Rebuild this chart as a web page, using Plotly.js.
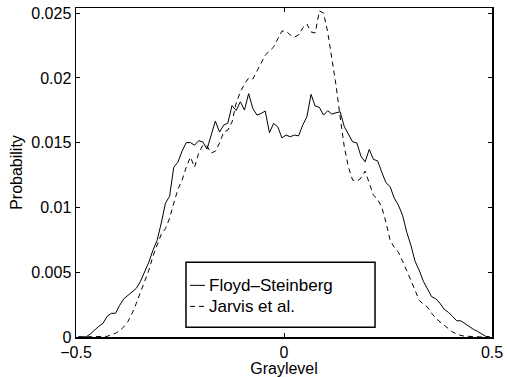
<!DOCTYPE html>
<html>
<head>
<meta charset="utf-8">
<script src="https://cdn.plot.ly/plotly-3.0.1.min.js"></script>
<style>
  html, body { margin: 0; padding: 0; background: #fff; }
  #chart { width: 507px; height: 377px; }
</style>
</head>
<body>
<div id="chart"></div>
<script>
// Bin centres (graylevel)
const graylevel = [
  -0.495,-0.485,-0.475,-0.465,-0.455,-0.445,-0.435,-0.425,-0.415,-0.405,
  -0.395,-0.385,-0.375,-0.365,-0.355,-0.345,-0.335,-0.325,-0.315,-0.305,
  -0.295,-0.285,-0.275,-0.265,-0.255,-0.245,-0.235,-0.225,-0.215,-0.205,
  -0.195,-0.185,-0.175,-0.165,-0.155,-0.145,-0.135,-0.125,-0.115,-0.105,
  -0.095,-0.085,-0.075,-0.065,-0.055,-0.045,-0.035,-0.025,-0.015,-0.005,
   0.005, 0.015, 0.025, 0.035, 0.045, 0.055, 0.065, 0.075, 0.085, 0.095,
   0.105, 0.115, 0.125, 0.135, 0.145, 0.155, 0.165, 0.175, 0.185, 0.195,
   0.205, 0.215, 0.225, 0.235, 0.245, 0.255, 0.265, 0.275, 0.285, 0.295,
   0.305, 0.315, 0.325, 0.335, 0.345, 0.355, 0.365, 0.375, 0.385, 0.395,
   0.405, 0.415, 0.425, 0.435, 0.445, 0.455, 0.465, 0.475, 0.485, 0.495
];

// Floyd–Steinberg probability
const floydSteinberg = [
  0,0,0.00002,0.00025,0.00056,0.00083,0.00106,0.0016,0.00183,0.00183,
  0.00245,0.00295,0.00322,0.00349,0.00376,0.0043,0.005,0.00577,0.0067,0.00747,
  0.0088,0.01033,0.01087,0.01311,0.0135,0.01435,0.01501,0.01501,0.01481,0.01516,
  0.01505,0.01451,0.01559,0.01667,0.01582,0.01636,0.01651,0.01787,0.01748,0.01816,
  0.01752,0.01879,0.01765,0.01713,0.01726,0.01744,0.01577,0.01649,0.01623,0.01538,
  0.01559,0.01546,0.01559,0.01553,0.01636,0.017,0.01873,0.01783,0.01773,0.01713,
  0.01747,0.01721,0.01731,0.01739,0.01623,0.01566,0.01507,0.01499,0.01396,0.01352,
  0.01448,0.01371,0.0136,0.01273,0.01192,0.01161,0.01072,0.01018,0.0094,0.00809,
  0.00709,0.00585,0.00515,0.0043,0.00369,0.00311,0.00295,0.0026,0.00214,0.00191,
  0.0016,0.00125,0.00125,0.00102,0.00079,0.0006,0.00044,0.00021,0.00005,0
];

// Jarvis et al. probability
const jarvis = [
  0,0,0,0,0,0,0.00002,0.00005,0.00017,0.00029,
  0.00048,0.00079,0.00121,0.00183,0.0026,0.00345,0.00438,0.00515,0.00624,0.00709,
  0.00794,0.00836,0.00917,0.01033,0.01141,0.01211,0.01311,0.01389,0.01311,0.0142,
  0.01481,0.01474,0.0142,0.01435,0.01497,0.01582,0.01597,0.01659,0.01806,0.01891,
  0.01953,0.01999,0.01992,0.02053,0.02115,0.02177,0.02208,0.02239,0.02301,0.02362,
  0.02362,0.02332,0.02316,0.02332,0.02386,0.02417,0.02355,0.02347,0.02517,0.02502,
  0.02355,0.02162,0.01945,0.01698,0.01466,0.01311,0.01211,0.01203,0.01226,0.01281,
  0.01195,0.01095,0.01064,0.01002,0.00887,0.00747,0.00693,0.00655,0.00585,0.00515,
  0.00438,0.00361,0.00284,0.00253,0.0023,0.00183,0.00145,0.00117,0.0009,0.0006,
  0.0004,0.00021,0.00013,0.00005,0.00005,0.00002,0,0,0,0
];

const seriesNames = ['Floyd\u2013Steinberg', 'Jarvis et al.'];
const xTickVals = [-0.5, 0, 0.5];
const xTickText = ['\u22120.5', '0', '0.5'];
const yTickVals = [0, 0.005, 0.01, 0.015, 0.02, 0.025];
const yTickText = ['0', '0.005', '0.01', '0.015', '0.02', '0.025'];

const FONT = 'Liberation Sans, Arial, Helvetica, sans-serif';

const traces = [
  { x: graylevel, y: floydSteinberg, name: seriesNames[0], type: 'scatter', mode: 'lines',
    line: { color: '#000', width: 1 }, showlegend: false, hoverinfo: 'skip' },
  { x: graylevel, y: jarvis, name: seriesNames[1], type: 'scatter', mode: 'lines',
    line: { color: '#000', width: 1, dash: '5px,4px' }, showlegend: false, hoverinfo: 'skip' }
];

// legend box geometry (paper coordinates)
const lg = { x0: 0.2644, x1: 0.7188, y0: 0.0295, y1: 0.2273 };
const row1 = 0.157, row2 = 0.093;
const sx0 = 0.274, sx1 = 0.31, tx = 0.314;

const layout = {
  width: 507, height: 377,
  margin: { l: 76, r: 15, t: 8, b: 40, pad: 0 },
  paper_bgcolor: '#fff', plot_bgcolor: '#fff',
  font: { family: FONT, size: 16, color: '#000' },
  showlegend: false,
  xaxis: {
    range: [-0.5, 0.5], tickvals: xTickVals, ticktext: xTickText,
    ticks: 'inside', ticklen: 4, tickwidth: 1, tickcolor: '#000',
    showline: true, linecolor: '#000', linewidth: 1.5, mirror: 'ticks',
    showgrid: false, zeroline: false,
    tickfont: { family: FONT, size: 16 },
    title: { text: 'Graylevel', font: { family: FONT, size: 16 }, standoff: 2 }
  },
  yaxis: {
    range: [0, 0.0254], tickvals: yTickVals, ticktext: yTickText,
    ticks: 'inside', ticklen: 4, tickwidth: 1, tickcolor: '#000',
    showline: true, linecolor: '#000', linewidth: 1.5, mirror: 'ticks',
    showgrid: false, zeroline: false,
    tickfont: { family: FONT, size: 16 },
    title: { text: 'Probability', font: { family: FONT, size: 16 }, standoff: 4 }
  },
  shapes: [
    { type: 'rect', xref: 'paper', yref: 'paper', x0: lg.x0, x1: lg.x1, y0: lg.y0, y1: lg.y1,
      line: { color: '#000', width: 1.5 }, fillcolor: '#fff', layer: 'above' },
    { type: 'line', xref: 'paper', yref: 'paper', x0: sx0, x1: sx1, y0: row1, y1: row1,
      line: { color: '#000', width: 1 }, layer: 'above' },
    { type: 'line', xref: 'paper', yref: 'paper', x0: sx0, x1: sx1, y0: row2, y1: row2,
      line: { color: '#000', width: 1, dash: '5px,4px' }, layer: 'above' }
  ],
  annotations: [
    { xref: 'paper', yref: 'paper', x: tx, y: row1, xanchor: 'left', yanchor: 'middle',
      text: seriesNames[0], showarrow: false, font: { family: FONT, size: 17 } },
    { xref: 'paper', yref: 'paper', x: tx, y: row2, xanchor: 'left', yanchor: 'middle',
      text: seriesNames[1], showarrow: false, font: { family: FONT, size: 17 } }
  ]
};

Plotly.newPlot('chart', traces, layout, { staticPlot: true, displayModeBar: false });
</script>
</body>
</html>
